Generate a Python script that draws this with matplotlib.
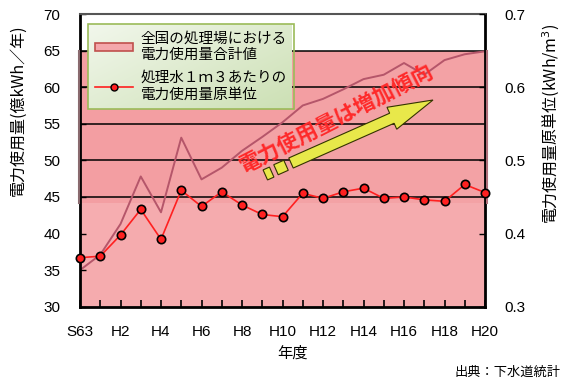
import matplotlib
matplotlib.use("Agg")
import matplotlib.pyplot as plt
from matplotlib.patches import Rectangle, FancyArrow, Polygon, Patch
from matplotlib.lines import Line2D
import numpy as np

plt.rcParams['font.family'] = ['Noto Sans CJK JP', 'DejaVu Sans']

years = ['S63', 'H1', 'H2', 'H3', 'H4', 'H5', 'H6', 'H7', 'H8', 'H9', 'H10',
         'H11', 'H12', 'H13', 'H14', 'H15', 'H16', 'H17', 'H18', 'H19', 'H20']
total_power = [35.0, 37.1, 41.3, 47.8, 42.9, 53.1, 47.4, 49.0, 51.3, 53.2, 55.2,
               57.5, 58.4, 59.7, 61.1, 61.7, 63.3, 61.7, 63.7, 64.5, 64.9]
unit_power = [0.367, 0.369, 0.398, 0.433, 0.392, 0.459, 0.437, 0.457, 0.439, 0.426, 0.423,
              0.455, 0.448, 0.457, 0.462, 0.448, 0.450, 0.446, 0.444, 0.467, 0.456]
left_ticks = [30, 35, 40, 45, 50, 55, 60, 65, 70]
right_ticks = [0.3, 0.4, 0.5, 0.6, 0.7]

W, H = 563, 379
fig = plt.figure(figsize=(W / 100, H / 100), dpi=100)
tr = fig.dpi_scale_trans

def px(x, y):
    return (x / 100.0, (H - y) / 100.0)

L, R, T, B = 80, 485, 14, 306.7
ax = fig.add_axes([L / W, 1 - B / H, (R - L) / W, (B - T) / H])
x = np.arange(len(years))
n_last = len(years) - 1
ax.set_xlim(0, n_last)
ax.set_ylim(30, 70)

# pink backgrounds
ax.add_patch(Rectangle((0, 30), n_last, 35, facecolor='#f6adb0', edgecolor='none', zorder=0.5))
ax.add_patch(Rectangle((-0.05, 44.2), n_last + 0.15, 20.8, facecolor='#f39ea2',
                       edgecolor='none', zorder=0.8, clip_on=False))
ax.plot([n_last + 0.1, n_last + 0.1], [44.2, 65], color='#b0707a', lw=1.5, zorder=2.6, clip_on=False)
ax.plot([-0.05, -0.05], [44.2, 65], color='#8a6a6e', lw=1.5, zorder=2.6, clip_on=False)
ax.fill_between(x, 30, total_power, color='#f5aaad', alpha=0.35, zorder=0.9, linewidth=0)
for gy in [45, 50, 55, 60, 65]:
    ax.axhline(gy, color='black', lw=1.1, zorder=1.2)
ax.plot(x, total_power, color='#b5566a', lw=1.4, zorder=2)

ax.set_yticks(left_ticks)
ax.set_yticklabels([str(v) for v in left_ticks], fontsize=11, family=['Liberation Sans'])
ax.set_xticks(x)
ax.set_xticklabels([y if i % 2 == 0 else '' for i, y in enumerate(years)],
                   fontsize=11, family=['Liberation Sans'])
ax.tick_params(axis='x', direction='in', length=5, width=1.2, pad=13)
ax.tick_params(axis='y', direction='in', length=4, width=1, pad=14)
for s in ['left', 'bottom']:
    ax.spines[s].set_linewidth(2)
    ax.spines[s].set_color('black')
ax.spines['top'].set_color('#555555')
ax.spines['top'].set_linewidth(1.5)
ax.spines['right'].set_color('black')
ax.spines['right'].set_linewidth(2)

ax2 = ax.twinx()
ax2.set_ylim(0.3, 0.7)
ax2.plot(x, unit_power, color='#ff2020', lw=1.2, marker='o', markersize=6,
         markerfacecolor='#ff2020', markeredgecolor='black', markeredgewidth=1.2, zorder=5, clip_on=False)
ax2.set_yticks(right_ticks)
ax2.set_yticklabels([f'{v:.1f}' for v in right_ticks], fontsize=11, family=['Liberation Sans'])
ax2.tick_params(axis='y', direction='in', length=4, width=1, pad=14)
for s in ax2.spines.values():
    s.set_visible(False)

# axis labels
fig.text(*px(18, 110), '電力使用量(億kWh／年)', rotation=90, ha='center', va='center',
         fontsize=11.5, transform=tr)
fig.text(*px(551, 124), '電力使用量原単位(kWh/m$^3$)', rotation=90, ha='center', va='center',
         fontsize=11.5, transform=tr)
fig.text(*px(292, 353), '年度', ha='center', va='center', fontsize=11, transform=tr)
fig.text(*px(561, 372), '出典：下水道統計', ha='right', va='center', fontsize=9.5, transform=tr)

# legend with gradient background
lx0, ly0, lx1, ly1 = 88, 24, 292, 109
gax = fig.add_axes([lx0 / W, 1 - ly1 / H, (lx1 - lx0) / W, (ly1 - ly0) / H], zorder=3)
gx, gy_ = np.meshgrid(np.linspace(0, 1, 200), np.linspace(0, 1, 80))
tval = 0.55 * gx + 0.45 * gy_
c0 = np.array([0xf2, 0xf7, 0xec]) / 255.0
c1 = np.array([0xcc, 0xe0, 0xb4]) / 255.0
img = c0[None, None, :] * (1 - tval[..., None]) + c1[None, None, :] * tval[..., None]
gax.imshow(img, aspect='auto', extent=(0, 1, 0, 1), origin='upper')
gax.set_axis_off()

handles = [Patch(facecolor='#f4a7ab', edgecolor='#c0504d', linewidth=1.2),
           Line2D([0], [0], color='#ff2020', lw=1.2, marker='o', markersize=5,
                  markerfacecolor='#ff2020', markeredgecolor='black')]
labels = ['全国の処理場における\n電力使用量合計値', '処理水１ｍ３あたりの\n電力使用量原単位']
leg = fig.legend(handles, labels, loc='upper left', bbox_to_anchor=px(lx0, ly0),
                 bbox_transform=tr, fontsize=10.5, frameon=True,
                 fancybox=False, framealpha=1, facecolor='none', edgecolor='#9bbb59',
                 handlelength=2.6, handleheight=0.5, handletextpad=0.5, labelspacing=0.6,
                 borderpad=0.5, borderaxespad=0)
leg.set_zorder(6)
leg.get_frame().set_linewidth(1.2)
for t in leg.get_texts():
    t.set_linespacing(1.25)

# annotation arrow and text
tail = px(291, 163)
tip = px(433, 100)
dx, dy = tip[0] - tail[0], tip[1] - tail[1]
arr = FancyArrow(tail[0], tail[1], dx, dy, width=0.11, head_width=0.24, head_length=0.45,
                 length_includes_head=True, facecolor='#e8e84a', edgecolor='#333300',
                 linewidth=0.8, transform=tr, zorder=4)
fig.add_artist(arr)
ang = np.arctan2(dy, dx)
u = np.array([np.cos(ang), np.sin(ang)])
nv = np.array([-np.sin(ang), np.cos(ang)])
for cxp, cyp, lng in [(268.5, 173.5, 0.07), (281, 167.5, 0.11)]:
    c = np.array(px(cxp, cyp))
    hw = 0.055
    pts = [c - u * lng / 2 - nv * hw, c + u * lng / 2 - nv * hw,
           c + u * lng / 2 + nv * hw, c - u * lng / 2 + nv * hw]
    fig.add_artist(Polygon(pts, closed=True, facecolor='#e8e84a', edgecolor='#333300',
                           linewidth=0.8, transform=tr, zorder=4))

fig.text(*px(336, 118), '電力使用量は増加傾向', rotation=27, rotation_mode='anchor',
         ha='center', va='center', fontsize=15.5, color='#ff2a2a', fontweight='bold',
         transform=tr, zorder=5)

fig.savefig('out.png', dpi=100)
